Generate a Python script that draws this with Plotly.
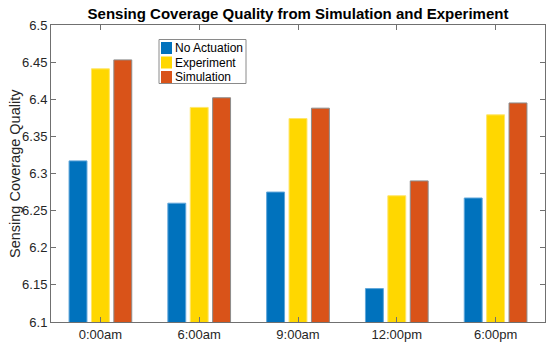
import plotly.graph_objects as go

# ---- data ----
categories = ["0:00am", "6:00am", "9:00am", "12:00pm", "6:00pm"]
no_actuation = [6.317, 6.260, 6.275, 6.145, 6.267]
experiment = [6.441, 6.389, 6.374, 6.270, 6.379]
simulation = [6.453, 6.402, 6.388, 6.290, 6.395]
series_names = ["No Actuation", "Experiment", "Simulation"]
series_colors = ["#0072BD", "#FFD700", "#D95319"]
edge_colors = ["#5FA6DA", "#FFE66A", "#8C8C8C"]
y_ticks = [6.1, 6.15, 6.2, 6.25, 6.3, 6.35, 6.4, 6.45, 6.5]

W, H = 546, 343
L, R, T, B = 51, 1, 25, 21
pw, ph = W - L - R, H - T - B

def px_x(p):
    return (p - L) / pw

def px_y(p):
    return (H - B - p) / ph

fig = go.Figure()
for name, vals, col, ecol in zip(series_names, [no_actuation, experiment, simulation],
                                 series_colors, edge_colors):
    fig.add_trace(go.Bar(x=categories, y=vals, name=name,
                         marker=dict(color=col, line=dict(color=ecol, width=1)),
                         showlegend=False))

axis_col = "#707070"
fig.update_layout(
    width=W, height=H,
    margin=dict(l=L, r=R, t=T, b=B, autoexpand=False),
    paper_bgcolor="white", plot_bgcolor="white",
    barmode="group", bargap=0.32, bargroupgap=0.2,
    font=dict(family="Liberation Sans, Arial, sans-serif", color="#262626"),
    title=dict(text="<b>Sensing Coverage Quality from Simulation and Experiment</b>",
               x=0.5, xref="paper", xanchor="center",
               y=1 - 14 / H, yanchor="middle",
               font=dict(size=15, color="black")),
    xaxis=dict(range=[-0.5, 4.5], showline=True, linecolor=axis_col, linewidth=1,
               mirror="ticks", ticks="inside", ticklen=5, tickcolor=axis_col,
               showgrid=False, tickfont=dict(size=13, color="#262626"),
               automargin=False),
    yaxis=dict(range=[6.1, 6.5], tickvals=y_ticks, tickformat=".2~f",
               showline=True, linecolor=axis_col, linewidth=1,
               mirror="ticks", ticks="inside", ticklen=5, tickcolor=axis_col,
               showgrid=False, zeroline=False,
               tickfont=dict(size=13, color="#262626"), automargin=False),
    showlegend=False,
)

# y-axis title (overlapping tick labels as in the original)
fig.add_annotation(text="Sensing Coverage Quality", xref="paper", yref="paper",
                   x=px_x(15), y=px_y(174), textangle=-90, showarrow=False,
                   xanchor="center", yanchor="middle",
                   font=dict(size=14.5, color="#262626"))

# legend box
fig.add_shape(type="rect", xref="paper", yref="paper",
              x0=px_x(159), x1=px_x(246), y0=px_y(83.5), y1=px_y(39.5),
              line=dict(color="#8a8a8a", width=1), fillcolor="white", layer="above")
centers = [48, 62.5, 77]
for name, col, cy in zip(series_names, series_colors, centers):
    fig.add_shape(type="rect", xref="paper", yref="paper",
                  x0=px_x(161), x1=px_x(172), y0=px_y(cy + 6), y1=px_y(cy - 6),
                  line=dict(width=0), fillcolor=col, layer="above")
    fig.add_annotation(text=name, xref="paper", yref="paper",
                       x=px_x(172.5), y=px_y(cy), xanchor="left", yanchor="middle",
                       showarrow=False, font=dict(size=12, color="black"))

fig.write_html("out.html", config={"displayModeBar": False},
               post_script="document.body.style.margin='0';")
